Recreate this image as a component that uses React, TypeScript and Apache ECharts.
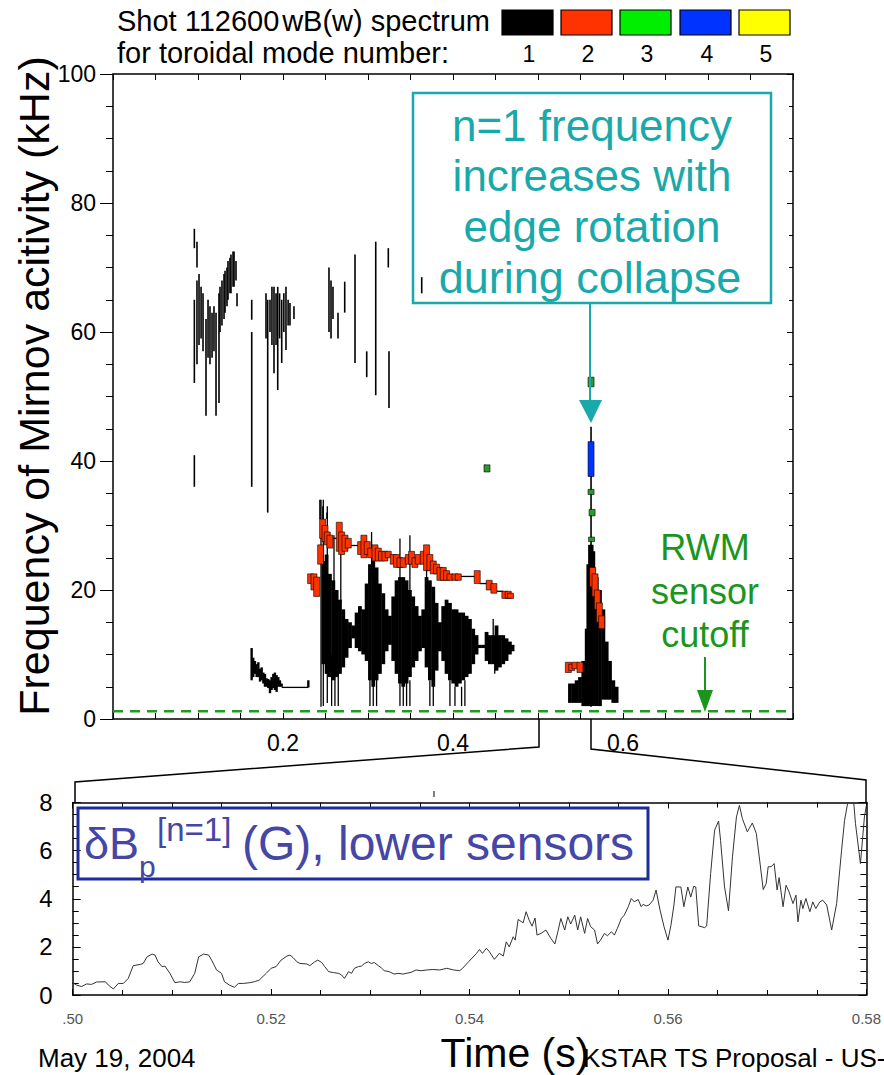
import React, { useEffect, useRef } from 'react';
import * as echarts from 'echarts';

const FONT = '"Liberation Sans", Arial, Helvetica, sans-serif';

// ---------- Top panel: Mirnov spectrogram (time s, frequency kHz) ----------
const modeNumbers = ['1', '2', '3', '4', '5'];
const modeColors = ['#000000', '#ff3300', '#00ee00', '#0033ff', '#ffff00'];
const yTicksTop = [0, 20, 40, 60, 80, 100];
const xLabelsTop = [0.2, 0.4, 0.6];
const rwmCutoff = 1.2; // kHz

// n=1 dense bursts [t, fLow, fHigh]
const n1Body = [
  [0.2474, 8.5, 24.5], [0.2513, 7, 25.5], [0.2552, 6.5, 22.5], [0.2592, 6, 21.5], [0.2631, 6.5, 20],
  [0.2670, 7, 18.5], [0.2709, 8, 17], [0.2748, 9.5, 15.5], [0.2788, 11, 15], [0.2827, 12.5, 14.5],
  [0.2866, 11, 16.5], [0.2905, 10.5, 17.5], [0.2944, 10, 17], [0.2984, 9, 21], [0.3023, 6, 24],
  [0.3062, 5, 25], [0.3101, 6, 23.5], [0.3140, 7, 21], [0.3180, 8.5, 19.5], [0.3219, 10.5, 17],
  [0.3258, 11.5, 16], [0.3297, 9, 19], [0.3336, 7, 21.5], [0.3376, 5.5, 22], [0.3415, 5, 22],
  [0.3454, 5.5, 21.5], [0.3493, 6.5, 20], [0.3532, 8, 19], [0.3572, 9, 17.5], [0.3611, 10.5, 16],
  [0.3650, 11, 17], [0.3689, 8, 22], [0.3728, 6, 21.5], [0.3768, 5, 20.5], [0.3807, 7.5, 18],
  [0.3846, 10.5, 15], [0.3885, 9, 17.5], [0.3924, 7, 18.5], [0.3964, 6, 18], [0.4003, 5.5, 17],
  [0.4042, 5, 17], [0.4081, 5.5, 16.5], [0.4120, 6, 16.5], [0.4160, 6.5, 16], [0.4199, 7, 15.5],
  [0.4238, 8.5, 14], [0.4277, 10, 13], [0.4316, 11, 11.5], [0.4356, 11, 11.5], [0.4395, 9, 13.5],
  [0.4434, 8.5, 13], [0.4473, 8.5, 13], [0.4512, 7.5, 14.5], [0.4552, 8, 13], [0.4591, 8.5, 13],
  [0.4630, 9, 12.5], [0.4669, 10, 12], [0.4701, 10.5, 11.5],
  // collapse burst near 0.56 s
  [0.5376, 2.5, 5.5], [0.5416, 2.5, 5.5], [0.5455, 2.5, 6], [0.5494, 2.5, 6.5], [0.5533, 2, 9],
  [0.5573, 2, 14], [0.5592, 2, 24], [0.5612, 2, 27], [0.5631, 2, 27], [0.5651, 2, 26],
  [0.5690, 2, 22], [0.5729, 2, 20], [0.5769, 3, 17], [0.5808, 3, 12], [0.5847, 3, 9],
  [0.5886, 2.5, 6], [0.5925, 2.5, 5],
];

// n=1 thin spikes [t, fLow, fHigh]
const n1Spikes = [
  [0.2447, 1.9, 34], [0.2474, 2, 34], [0.2521, 2.5, 33], [0.2572, 2, 10], [0.2611, 2, 10],
  [0.2650, 2, 8], [0.2680, 18, 30], [0.2600, 18, 28.5], [0.3023, 2, 8], [0.3062, 2, 6],
  [0.3101, 2, 8], [0.3042, 22, 29], [0.3376, 2, 8], [0.3415, 2, 6], [0.3454, 2, 8],
  [0.3493, 2, 6], [0.3376, 20, 28], [0.3493, 20, 28.5], [0.3728, 2, 6], [0.3768, 2, 6],
  [0.3689, 20, 27], [0.3964, 2, 6], [0.4023, 2, 5], [0.4101, 2, 5], [0.4140, 2, 6],
  [0.4473, 12, 15.5], [0.4491, 7, 9],
];

// n=1 sparse upper activity [t, fLow, fHigh]
const n1Sparse = [
  [0.0957, 73, 76], [0.0957, 52.1, 65], [0.0957, 36, 40.9],
  [0.0988, 70, 74], [0.0988, 55, 68], [0.1012, 58, 69], [0.1036, 59, 67], [0.1059, 57, 66],
  [0.1094, 47, 62], [0.1118, 56, 65], [0.1141, 55, 64], [0.1165, 56, 63], [0.1188, 57, 64],
  [0.1212, 47, 63], [0.1247, 49, 66], [0.1259, 60, 67], [0.1282, 61, 68], [0.1306, 62, 69],
  [0.1318, 63, 69.5], [0.1341, 64, 70], [0.1353, 65, 71], [0.1376, 66, 71.5], [0.1388, 66, 72],
  [0.1412, 67, 72.5], [0.1424, 67, 72.5], [0.1447, 68, 71], [0.1459, 64, 66],
  [0.1632, 61.9, 65], [0.1632, 36, 60], [0.1820, 32, 65],
  [0.1800, 59, 66], [0.1847, 60, 65], [0.1870, 58, 67], [0.1894, 53.6, 67], [0.1918, 58, 66],
  [0.1938, 51, 67], [0.1960, 59, 66], [0.1985, 55.2, 65], [0.2010, 60, 66], [0.2035, 57.2, 67],
  [0.2060, 61, 65], [0.2082, 61, 64.5], [0.2129, 62, 64],
  [0.2541, 60, 70], [0.2565, 59, 68], [0.2588, 62, 67], [0.2647, 59, 63], [0.2726, 63, 67.8],
  [0.2847, 55.2, 72], [0.2985, 53, 57], [0.3091, 50.2, 74], [0.3239, 70, 73], [0.3247, 48.2, 57],
  [0.3632, 66, 68.5], [0.2435, 31, 34], [0.2470, 31, 33], [0.2518, 31, 32], [0.4376, 38.3, 39.4],
  [0.5624, 1.9, 45.3],
];

// n=1 low-frequency trace [t, fLow, fHigh]
const n1Low = [
  [0.1631, 6, 11], [0.1650, 6.5, 9.5], [0.1670, 7, 9], [0.1690, 6.5, 8.5], [0.1710, 6.5, 8.8],
  [0.1730, 5.8, 7.8], [0.1749, 6, 8], [0.1769, 5.5, 7.2], [0.1788, 5, 7], [0.1808, 5, 6.3],
  [0.1827, 4.8, 6.2], [0.1847, 4, 6], [0.1866, 4.5, 6.5], [0.1886, 4.8, 7], [0.1905, 4.5, 7.2],
  [0.1925, 4.2, 6.8], [0.1945, 5, 6.5], [0.1964, 5, 6], [0.1984, 5, 5.5], [0.2298, 4.9, 6],
];

// horizontal connecting traces [tStart, tEnd, f]
const n1Links = [
  [0.1984, 0.2298, 4.9], [0.2552, 0.2662, 28], [0.2788, 0.2913, 26.9], [0.4062, 0.4285, 22.1],
  [0.4316, 0.4414, 21.0], [0.4512, 0.4591, 19.8], [0.4316, 0.4395, 11.2], [0.2827, 0.2866, 13.8],
];

// n=2 (red) [t, fLow, fHigh]
const n2Band = [
  [0.2325, 21, 22.5], [0.2364, 20, 22.5], [0.2396, 19, 22], [0.2443, 24, 27], [0.2466, 28, 31],
  [0.2494, 27.5, 30], [0.2521, 27, 29], [0.2552, 26.5, 28.5], [0.2662, 26, 30.5], [0.2690, 25.5, 29],
  [0.2729, 26, 28.5], [0.2768, 26.5, 28], [0.2913, 25.5, 27.5], [0.2952, 25, 28.5], [0.2991, 25.5, 27.5],
  [0.3031, 25, 26.5], [0.3082, 24.5, 27], [0.3121, 24.5, 26.5], [0.3160, 24.5, 26], [0.3199, 24.5, 26],
  [0.3238, 25, 26], [0.3297, 24, 25.5], [0.3336, 23.5, 25.5], [0.3376, 23.5, 25], [0.3415, 23.5, 25],
  [0.3474, 24, 25.5], [0.3513, 24, 26], [0.3552, 23.5, 25], [0.3591, 24, 25.5], [0.3650, 24, 26],
  [0.3689, 23, 27], [0.3728, 23, 25.5], [0.3768, 22.5, 24.5], [0.3807, 22.5, 24], [0.3846, 21.5, 23.5],
  [0.3885, 21.5, 23.5], [0.3924, 21.5, 23], [0.3964, 21.5, 22.5], [0.4023, 21.5, 22.5], [0.4062, 21.5, 22.5],
  [0.4285, 21, 23], [0.4426, 20, 21.5], [0.4481, 19.5, 21], [0.4610, 18.7, 19.8], [0.4650, 18.7, 19.8],
  [0.4677, 18.7, 19.5],
  [0.5643, 20.5, 23.5], [0.5671, 19, 22.5], [0.5698, 17, 20], [0.5722, 15, 18], [0.5749, 14, 16],
  [0.5357, 7.2, 8.8], [0.5396, 7.5, 8.5], [0.5435, 7.8, 8.8], [0.5494, 7.2, 8.8],
];

// n=3 (green) and n=4 (blue) [t, fLow, fHigh]
const n3Band = [[0.5624, 51.5, 53], [0.5624, 34.8, 35.6], [0.5636, 31.5, 32.5], [0.5630, 27.5, 28.2], [0.4400, 38.3, 39.4]];
const n4Band = [[0.5624, 37.6, 43]];

// ---------- Bottom panel: dBp n=1 (G) vs time (s) ----------
const bTime = [
  0.5000, 0.5004, 0.5009, 0.5014, 0.5019, 0.5024, 0.5033, 0.5036, 0.5041, 0.5046, 0.5051, 0.5056,
  0.5061, 0.5068, 0.5071, 0.5075, 0.5080, 0.5083, 0.5086, 0.5090, 0.5093, 0.5098, 0.5103, 0.5108,
  0.5113, 0.5118, 0.5123, 0.5127, 0.5132, 0.5137, 0.5140, 0.5145, 0.5150, 0.5153, 0.5158, 0.5163,
  0.5167, 0.5172, 0.5178, 0.5183, 0.5188, 0.5195, 0.5200, 0.5205, 0.5210, 0.5216, 0.5219, 0.5222,
  0.5226, 0.5229, 0.5236, 0.5239, 0.5244, 0.5247, 0.5251, 0.5254, 0.5258, 0.5263, 0.5268, 0.5271,
  0.5274, 0.5278, 0.5281, 0.5284, 0.5288, 0.5291, 0.5294, 0.5298, 0.5301, 0.5304, 0.5308, 0.5311,
  0.5314, 0.5319, 0.5324, 0.5328, 0.5333, 0.5336, 0.5341, 0.5346, 0.5351, 0.5357, 0.5363, 0.5370,
  0.5377, 0.5384, 0.5390, 0.5393, 0.5399, 0.5407, 0.5410, 0.5413, 0.5417, 0.5420, 0.5425, 0.5430,
  0.5434, 0.5437, 0.5440, 0.5444, 0.5446, 0.5449, 0.5454, 0.5457, 0.5460, 0.5463, 0.5466, 0.5468,
  0.5472, 0.5477, 0.5482, 0.5486, 0.5489, 0.5492, 0.5496, 0.5499, 0.5502, 0.5506, 0.5509, 0.5512,
  0.5516, 0.5519, 0.5522, 0.5526, 0.5529, 0.5532, 0.5536, 0.5539, 0.5543, 0.5546, 0.5549, 0.5553,
  0.5556, 0.5560, 0.5563, 0.5566, 0.5570, 0.5573, 0.5575, 0.5578, 0.5581, 0.5585, 0.5588, 0.5592,
  0.5596, 0.5600, 0.5603, 0.5606, 0.5608, 0.5613, 0.5616, 0.5620, 0.5623, 0.5626, 0.5628, 0.5631,
  0.5637, 0.5639, 0.5643, 0.5647, 0.5651, 0.5653, 0.5657, 0.5661, 0.5665, 0.5669, 0.5672, 0.5675,
  0.5680, 0.5682, 0.5685, 0.5689, 0.5692, 0.5696, 0.5699, 0.5701, 0.5704, 0.5707, 0.5710, 0.5712,
  0.5716, 0.5719, 0.5722, 0.5726, 0.5729, 0.5731, 0.5734, 0.5736, 0.5739, 0.5743, 0.5746, 0.5749,
  0.5753, 0.5756, 0.5760, 0.5765, 0.5770, 0.5775, 0.5778, 0.5781, 0.5783, 0.5786, 0.5789, 0.5794,
  0.5798, 0.5800,
];
const bVal = [
  0.51, 0.41, 0.35, 0.46, 0.44, 0.54, 0.55, 0.41, 0.25, 0.48, 0.48, 0.69,
  1.22, 1.27, 1.31, 1.59, 1.70, 1.66, 1.38, 1.18, 1.20, 0.90, 0.51, 0.55,
  0.52, 0.55, 0.90, 1.59, 1.70, 1.66, 1.45, 1.04, 0.90, 0.55, 0.41, 0.32,
  0.48, 0.48, 0.51, 0.55, 0.62, 0.90, 1.11, 1.18, 1.45, 1.62, 1.66, 1.56,
  1.38, 1.31, 1.29, 1.22, 1.38, 1.45, 1.35, 1.18, 0.97, 0.93, 0.90, 0.83,
  0.69, 0.97, 0.90, 1.11, 1.18, 1.20, 1.31, 1.38, 1.31, 1.35, 1.22, 1.13,
  1.01, 0.97, 0.87, 0.90, 0.87, 0.90, 0.94, 1.04, 1.01, 1.04, 1.06, 1.04,
  1.11, 1.04, 1.01, 1.11, 1.38, 1.73, 1.89, 1.73, 1.94, 1.80, 1.48, 1.73,
  1.62, 2.21, 2.00, 2.42, 2.28, 3.14, 3.00, 3.46, 3.12, 2.86, 3.20, 2.49,
  2.56, 2.70, 2.35, 2.12, 2.63, 3.18, 2.70, 3.25, 2.95, 3.32, 2.70, 3.25,
  2.56, 3.18, 2.84, 2.70, 2.12, 2.28, 2.56, 2.46, 2.63, 2.49, 2.77, 3.18,
  3.32, 3.67, 4.01, 3.87, 3.97, 3.67, 3.77, 3.70, 3.74, 3.94, 4.36, 3.53,
  2.84, 2.28, 2.90, 3.74, 4.49, 4.49, 3.67, 4.49, 4.07, 4.52, 4.49, 2.87,
  2.80, 2.87, 5.05, 6.85, 7.23, 6.43, 4.49, 3.50, 5.74, 7.40, 7.88, 7.33,
  6.78, 6.93, 7.15, 6.72, 5.74, 4.38, 4.63, 5.33, 5.33, 5.46, 4.36, 4.88,
  3.67, 4.56, 4.29, 3.80, 4.15, 3.04, 3.94, 3.59, 4.01, 3.46, 3.87, 3.59,
  3.87, 3.94, 3.74, 2.70, 3.80, 6.02, 7.26, 7.95, 8.30, 8.60, 7.12, 5.46,
  7.40, 7.88,
];
const yTicksBottom = [0, 2, 4, 6, 8];

const TEAL = '#1aa9aa';
const GREEN = '#1b961d';
const BLUE_TXT = '#4646a6';

function vSeg(data: number[][], color: string, width: number, z: number) {
  return {
    type: 'custom', xAxisIndex: 0, yAxisIndex: 0, z, clip: true, silent: true,
    data,
    encode: { x: 0, y: [1, 2] },
    renderItem: (_p: any, api: any) => {
      const a = api.coord([api.value(0), api.value(1)]);
      const b = api.coord([api.value(0), api.value(2)]);
      return { type: 'line', shape: { x1: a[0], y1: a[1], x2: b[0], y2: b[1] }, style: { stroke: color, lineWidth: width } };
    },
  };
}
function blockSeg(data: number[][], color: string, z: number) {
  return {
    type: 'custom', xAxisIndex: 0, yAxisIndex: 0, z, clip: true, silent: true,
    data,
    encode: { x: 0, y: [1, 2] },
    renderItem: (_p: any, api: any) => {
      const a = api.coord([api.value(0), api.value(2)]);
      const b = api.coord([api.value(0), api.value(1)]);
      return { type: 'rect', shape: { x: a[0] - 3, y: a[1], width: 6, height: Math.max(1.5, b[1] - a[1]) }, style: { fill: color, stroke: '#000', lineWidth: 0.6 } };
    },
  };
}

function buildOption() {
  const isLabel = (v: number) => xLabelsTop.some((x) => Math.abs(v - x) < 1e-6);
  const topX = (pos: 'bottom' | 'top', labels: boolean) => ({
    type: 'value', gridIndex: 0, position: pos, min: 0, max: 0.8, interval: 0.05,
    axisLine: { show: true, onZero: false, lineStyle: { color: '#000', width: 1.5 } },
    axisTick: { show: true, inside: true, length: 6, lineStyle: { color: '#000', width: 1 } },
    axisLabel: labels ? { show: true, margin: 12, fontSize: 23, color: '#000', fontFamily: FONT, formatter: (v: number) => (isLabel(v) ? v.toFixed(1) : '') } : { show: false },
    splitLine: { show: false },
  });
  const topY = (pos: 'left' | 'right', labels: boolean) => ({
    type: 'value', gridIndex: 0, position: pos, min: yTicksTop[0], max: yTicksTop[yTicksTop.length - 1], interval: 20,
    axisLine: { show: true, onZero: false, lineStyle: { color: '#000', width: 1.5 } },
    axisTick: { show: true, inside: !labels, length: labels ? 13 : 6, lineStyle: { color: '#000', width: 1 } },
    minorTick: { show: true, splitNumber: 4, length: labels ? 7 : 4, lineStyle: { color: '#000', width: 1 } },
    axisLabel: labels ? { show: true, margin: 17, fontSize: 23, color: '#000', fontFamily: FONT } : { show: false },
    splitLine: { show: false }, minorSplitLine: { show: false },
  });
  const botX = (pos: 'bottom' | 'top', labels: boolean) => ({
    type: 'value', gridIndex: 1, position: pos, min: 0.5, max: 0.58, interval: 0.02,
    axisLine: { show: true, onZero: false, lineStyle: { color: '#000', width: 1.5 } },
    axisTick: { show: true, inside: true, length: 6, lineStyle: { color: '#000', width: 1 } },
    minorTick: { show: true, splitNumber: 4, length: 5, lineStyle: { color: '#000', width: 1 } },
    axisLabel: labels ? { show: true, margin: 16, fontSize: 15, color: '#555', fontFamily: FONT, formatter: (v: number) => (Math.abs(v - 0.5) < 1e-9 ? '.50' : v.toFixed(2)) } : { show: false },
    splitLine: { show: false }, minorSplitLine: { show: false },
  });
  const botY = (pos: 'left' | 'right', labels: boolean) => ({
    type: 'value', gridIndex: 1, position: pos, min: yTicksBottom[0], max: yTicksBottom[yTicksBottom.length - 1], interval: 2,
    axisLine: { show: true, onZero: false, lineStyle: { color: '#000', width: 1.5 } },
    axisTick: { show: true, inside: true, length: 8, lineStyle: { color: '#000', width: 1 } },
    minorTick: { show: true, splitNumber: 4, length: 6, lineStyle: { color: '#000', width: 1 } },
    axisLabel: labels ? { show: true, margin: 20, fontSize: 24, color: '#000', fontFamily: FONT } : { show: false },
    splitLine: { show: false }, minorSplitLine: { show: false },
  });

  const txt = (text: string, x: number, y: number, size: number, fill: string, align = 'left', extra: any = {}) => ({
    type: 'text', x, y, z: 100, silent: true, ...extra,
    style: { text, fontSize: size, fontFamily: FONT, fill, align, verticalAlign: 'middle' },
  });

  const legendX = [502, 561, 620, 680, 739];
  const graphic: any[] = [
    txt('Shot 112600', 117, 21, 29, '#000'),
    txt('wB(w) spectrum', 490, 21, 29, '#000', 'right'),
    txt('for toroidal mode number:', 117, 53, 29, '#000'),
    ...modeColors.map((c, i) => ({ type: 'rect', z: 100, silent: true, shape: { x: legendX[i], y: 10, width: 51, height: 25 }, style: { fill: c, stroke: '#000', lineWidth: 1.2 } })),
    ...modeNumbers.map((n, i) => txt(n, legendX[i] + 27, 54, 23, '#000', 'center')),
    txt('Frequency of Mirnov acitivity (kHz)', 34, 386, 43, '#000', 'center', { rotation: Math.PI / 2 }),
    // teal annotation
    { type: 'rect', z: 99, silent: true, shape: { x: 413, y: 93, width: 358, height: 210 }, style: { fill: 'none', stroke: TEAL, lineWidth: 2.5 } },
    txt('n=1 frequency', 592, 125, 44, TEAL, 'center'),
    txt('increases with', 592, 175, 44, TEAL, 'center'),
    txt('edge rotation', 592, 226, 44, TEAL, 'center'),
    txt('during collapse', 590, 277, 45, TEAL, 'center'),
    { type: 'line', z: 99, silent: true, shape: { x1: 590, y1: 303, x2: 590, y2: 402 }, style: { stroke: TEAL, lineWidth: 2 } },
    { type: 'polygon', z: 99, silent: true, shape: { points: [[579, 400], [602, 400], [591, 423]] }, style: { fill: TEAL } },
    // RWM cutoff annotation
    txt('RWM', 705, 547, 36, GREEN, 'center'),
    txt('sensor', 705, 591, 36, GREEN, 'center'),
    txt('cutoff', 705, 634, 36, GREEN, 'center'),
    { type: 'line', z: 99, silent: true, shape: { x1: 705, y1: 657, x2: 705, y2: 692 }, style: { stroke: GREEN, lineWidth: 2 } },
    { type: 'polygon', z: 99, silent: true, shape: { points: [[697, 690], [713, 690], [705, 712]] }, style: { fill: GREEN } },
    // zoom connectors
    { type: 'polyline', z: 99, silent: true, shape: { points: [[539, 719], [539, 747], [75, 782], [75, 803]] }, style: { stroke: '#000', lineWidth: 1.5, fill: 'none' } },
    { type: 'polyline', z: 99, silent: true, shape: { points: [[591, 719], [591, 749], [866, 780], [866, 803]] }, style: { stroke: '#000', lineWidth: 1.5, fill: 'none' } },
    { type: 'line', z: 99, silent: true, shape: { x1: 434, y1: 791, x2: 434, y2: 797 }, style: { stroke: '#000', lineWidth: 1 } },
    // bottom label box
    { type: 'rect', z: 99, silent: true, shape: { x: 78, y: 808, width: 570, height: 71 }, style: { fill: 'none', stroke: '#1c2c9c', lineWidth: 3 } },
    txt('δB', 84, 843, 45, BLUE_TXT),
    txt('p', 139, 866, 30, BLUE_TXT),
    txt('[n=1]', 157, 829, 33, BLUE_TXT),
    txt('(G), lower sensors', 242, 843, 48, BLUE_TXT),
    // footer
    txt('May 19, 2004', 38, 1058, 26, '#000'),
    txt('Time (s)', 515, 1053, 41, '#000', 'center'),
    txt('KSTAR TS Proposal - US-', 583, 1058, 26, '#000'),
  ];

  return {
    animation: false,
    backgroundColor: '#fff',
    grid: [
      { left: 113, top: 74, width: 680, height: 645 },
      { left: 72.7, top: 802.5, width: 794, height: 192.5 },
    ],
    xAxis: [topX('bottom', true), topX('top', false), botX('bottom', true), botX('top', false)],
    yAxis: [topY('left', true), topY('right', false), botY('left', true), botY('right', false)],
    series: [
      {
        type: 'line', xAxisIndex: 0, yAxisIndex: 0, z: 1, silent: true, showSymbol: false,
        data: [[0, rwmCutoff], [0.8, rwmCutoff]],
        lineStyle: { color: '#1f9a24', width: 2.5, type: [10, 7] },
      },
      vSeg(n1Sparse, '#000', 1.6, 2),
      vSeg(n1Low, '#000', 2.4, 2),
      vSeg(n1Body, '#000', 3.8, 2),
      vSeg(n1Spikes, '#000', 1.3, 2),
      {
        type: 'custom', xAxisIndex: 0, yAxisIndex: 0, z: 2, clip: true, silent: true,
        data: n1Links,
        encode: { x: [0, 1], y: 2 },
        renderItem: (_p: any, api: any) => {
          const a = api.coord([api.value(0), api.value(2)]);
          const b = api.coord([api.value(1), api.value(2)]);
          return { type: 'line', shape: { x1: a[0], y1: a[1], x2: b[0], y2: b[1] }, style: { stroke: '#000', lineWidth: 1.3 } };
        },
      },
      blockSeg(n2Band, modeColors[1], 3),
      blockSeg(n3Band, '#2a9a2a', 4),
      blockSeg(n4Band, modeColors[3], 4),
      {
        type: 'line', xAxisIndex: 2, yAxisIndex: 2, z: 2, silent: true, showSymbol: false, clip: true,
        data: bTime.map((t, i) => [t, bVal[i]]),
        lineStyle: { color: '#333', width: 1 },
      },
    ],
    graphic,
  };
}

export default function App() {
  const ref = useRef<HTMLDivElement>(null);
  useEffect(() => {
    const chart = echarts.init(ref.current as HTMLDivElement, null, { renderer: 'svg' });
    chart.setOption(buildOption() as any);
    return () => chart.dispose();
  }, []);
  return <div ref={ref} style={{ position: 'absolute', left: 0, top: 0, width: 884, height: 1075, background: '#fff' }} />;
}
